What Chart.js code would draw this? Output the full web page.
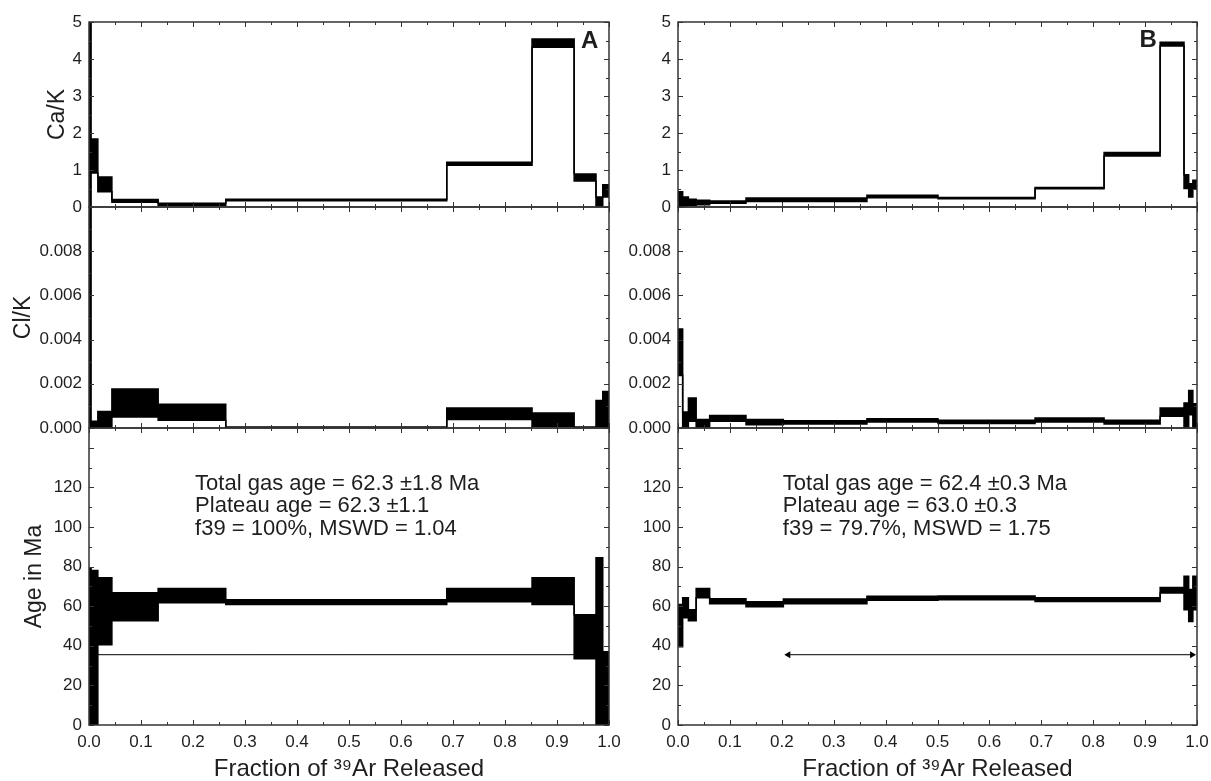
<!DOCTYPE html>
<html><head><meta charset="utf-8">
<script src="https://cdn.jsdelivr.net/npm/chart.js@4.4.1/dist/chart.umd.min.js"></script>
<style>
html,body{margin:0;padding:0;background:#fff;width:1211px;height:781px;overflow:hidden;}
canvas{position:absolute;}
</style></head><body>
<canvas id="aCa" width="624" height="220" style="left:0;top:0"></canvas>
<canvas id="aCl" width="624" height="246" style="left:0;top:195px"></canvas>
<canvas id="aAge" width="624" height="366" style="left:0;top:415px"></canvas>
<canvas id="bCa" width="601" height="220" style="left:610px;top:0"></canvas>
<canvas id="bCl" width="601" height="246" style="left:610px;top:195px"></canvas>
<canvas id="bAge" width="601" height="366" style="left:610px;top:415px"></canvas>
<script>
// ---------- data: panel A ----------
const stepsA   = [0, 0.004, 0.017, 0.044, 0.133, 0.263, 0.688, 0.852, 0.933, 0.975, 0.988, 1.0];
const caKLowA  = [0, 0.92, 0.41, 0.13, 0.05, 0.17, 1.13, 4.32, 0.70, 0.03, 0.27];
const caKHighA = [5.3, 1.84, 0.81, 0.20, 0.10, 0.21, 1.21, 4.54, 0.89, 0.27, 0.60];
const clKLowA  = [0, 0, 0, 0.0005, 0.00035, 0, 0.00038, 0.00008, 0, 0, 0];
const clKHighA = [0.0105, 0.0003, 0.00075, 0.00176, 0.00108, 0.00004, 0.0009, 0.00068, 0.00004, 0.00125, 0.00165];
const ageLowA  = [0, 0, 40.5, 52.7, 61.8, 60.8, 62.3, 60.8, 33.4, 0, 0];
const ageHighA = [79, 78, 74.4, 66.8, 68.9, 63.3, 68.9, 74.4, 55.7, 84.5, 37];
const plateauA = {from: 0, to: 1.0, age: 35.5};
const notesA   = ['Total gas age = 62.3 \u00b11.8 Ma', 'Plateau age = 62.3 \u00b11.1', 'f39 = 100%, MSWD = 1.04'];

// ---------- data: panel B ----------
const stepsB   = [0, 0.009, 0.020, 0.035, 0.061, 0.131, 0.203, 0.364, 0.501, 0.688, 0.821, 0.929, 0.975, 0.984, 0.992, 1.0];
const caKLowB  = [0.0, 0.03, 0.05, 0.06, 0.10, 0.15, 0.15, 0.25, 0.22, 0.49, 1.38, 4.35, 0.50, 0.27, 0.50];
const caKHighB = [0.41, 0.27, 0.21, 0.18, 0.16, 0.24, 0.24, 0.32, 0.26, 0.53, 1.47, 4.45, 0.87, 0.63, 0.72];
const clKLowB  = [0.00238, 0, 0.0003, 0, 0.0003, 0.00015, 0.00018, 0.00027, 0.0002, 0.00027, 0.00018, 0.00053, 0, 0.0006, 0];
const clKHighB = [0.00448, 0.00072, 0.00136, 0.00038, 0.00056, 0.00038, 0.00033, 0.00042, 0.00035, 0.00045, 0.00035, 0.0009, 0.00113, 0.0017, 0.0011];
const ageLowB  = [39.5, 54.2, 52.7, 64.3, 61.3, 59.7, 61.3, 63.0, 63.2, 62.4, 62.4, 66.7, 58.2, 52.3, 58.2];
const ageHighB = [60.8, 64.3, 58.2, 68.9, 63.8, 62.3, 63.6, 65.0, 65.2, 64.3, 64.3, 69.5, 75.1, 68.4, 75.1];
const plateauB = {from: 0.2125, to: 0.9905, age: 35.5};
const notesB   = ['Total gas age = 62.4 \u00b10.3 Ma', 'Plateau age = 63.0 \u00b10.3', 'f39 = 79.7%, MSWD = 1.75'];

// ---------- axis labels ----------
const fractionTicks = [0, 0.1, 0.2, 0.3, 0.4, 0.5, 0.6, 0.7, 0.8, 0.9, 1.0];
const xTitle = 'Fraction of \u00b3\u2079Ar Released';
const caKTitle = 'Ca/K', clKTitle = 'Cl/K', ageTitle = 'Age in Ma';

const FAM = '"Liberation Sans", Arial, Helvetica, sans-serif';
const INK = '#1e1e1e';

function stepData(steps, vals) {
  const pts = vals.map((v, i) => ({x: steps[i], y: v}));
  pts.push({x: steps[steps.length - 1], y: vals[vals.length - 1]});
  return pts;
}

const frameTicks = {
  id: 'frameTicks',
  afterDatasetsDraw(chart, args, opts) {
    const {ctx, chartArea: a, scales: {x, y}} = chart;
    ctx.save();
    ctx.strokeStyle = '#333';
    ctx.lineWidth = 1;
    ctx.beginPath();
    for (let i = 0; i <= 20; i++) {
      const px = Math.round(x.getPixelForValue(i * 0.05)) + 0.5;
      const len = i % 2 === 0 ? 5 : 3;
      ctx.moveTo(px, a.top); ctx.lineTo(px, a.top + len);
      ctx.moveTo(px, a.bottom); ctx.lineTo(px, a.bottom - len);
    }
    const n = Math.round((y.max - y.min) / opts.minor);
    for (let i = 0; i <= n; i++) {
      const py = Math.round(y.getPixelForValue(y.min + i * opts.minor)) + 0.5;
      const len = i % opts.every === 0 ? 5 : 3;
      ctx.moveTo(a.left, py); ctx.lineTo(a.left + len, py);
      ctx.moveTo(a.right, py); ctx.lineTo(a.right - len, py);
    }
    ctx.stroke();
    ctx.lineWidth = 1.5;
    ctx.strokeRect(a.left, a.top, a.right - a.left, a.bottom - a.top);
    ctx.restore();
  }
};
const notesPlugin = {
  id: 'notes',
  afterDraw(chart, args, opts) {
    const items = opts.items || [];
    const {ctx, scales: {x, y}} = chart;
    ctx.save();
    for (const it of items) {
      ctx.font = it.font;
      ctx.fillStyle = INK;
      ctx.textAlign = it.align || 'left';
      ctx.textBaseline = 'middle';
      ctx.fillText(it.text, x.getPixelForValue(it.x), y.getPixelForValue(it.y));
    }
    ctx.restore();
  }
};
Chart.register(frameTicks, notesPlugin);

function makeChart(id, o) {
  const ds = [
    {data: stepData(o.steps, o.lo), stepped: true, borderColor: '#000', borderWidth: 1.5, pointRadius: 0, fill: false, clip: 0},
    {data: stepData(o.steps, o.hi), stepped: true, borderColor: '#000', borderWidth: 1.5, pointRadius: 0, fill: '-1', backgroundColor: '#000', clip: 0}
  ];
  if (o.plateau) {
    ds.push({
      data: [{x: o.plateau.from, y: o.plateau.age}, {x: o.plateau.to, y: o.plateau.age}],
      borderColor: '#000', borderWidth: 1, fill: false, clip: 0,
      pointRadius: o.arrows ? 4 : 0, pointStyle: 'triangle', pointBackgroundColor: '#000', pointBorderWidth: 0,
      pointRotation: c => c.dataIndex === 0 ? 270 : 90
    });
  }
  return new Chart(document.getElementById(id), {
    type: 'line',
    data: {datasets: ds},
    options: {
      responsive: false, animation: false, events: [],
      layout: {padding: o.padding},
      plugins: {
        legend: {display: false}, tooltip: {enabled: false},
        frameTicks: {minor: o.minor, every: o.every},
        notes: {items: o.notes || []}
      },
      scales: {
        x: {
          type: 'linear', min: 0, max: 1, display: !!o.showX,
          afterFit: s => { s.height = o.showX ? 56 : 0; s.paddingLeft = 0; s.paddingRight = 0; s.paddingTop = 0; s.paddingBottom = 0; },
          grid: {display: false, drawTicks: false}, border: {display: false},
          afterBuildTicks: s => { s.ticks = fractionTicks.map(v => ({value: v})); },
          ticks: {padding: 7, maxRotation: 0, autoSkip: false, color: INK, font: {family: FAM, size: 17},
                  callback: v => v.toFixed(1)},
          title: {display: true, text: xTitle, color: INK, font: {family: FAM, size: 24, lineHeight: 1}, padding: {top: 0, bottom: 0}}
        },
        y: {
          type: 'linear', min: o.min, max: o.max,
          afterFit: s => { s.width = o.axisW; s.paddingLeft = 0; s.paddingRight = 0; s.paddingTop = 0; s.paddingBottom = 0; },
          grid: {display: false, drawTicks: false}, border: {display: false},
          ticks: {stepSize: o.step, padding: 7, autoSkip: false, color: INK, font: {family: FAM, size: 17}, callback: o.fmt},
          title: {display: !!o.title, text: o.title, color: INK, font: {family: FAM, size: 23}, padding: {top: o.titlePad || 0, bottom: 0}}
        }
      }
    }
  });
}

const caFmt = v => (v <= 5.001 ? String(Math.round(v)) : '');
const clFmt = v => (v < 0.0095 ? v.toFixed(3) : '');
const ageFmt = v => (v <= 120.5 && Math.abs(v % 20) < 0.01 ? String(Math.round(v)) : '');
const noteFont = '22px ' + FAM;
const letterFont = 'bold 24px ' + FAM;
const noteRows = [122, 110.7, 99];

function panel(p) {
  makeChart(p.ids[0], {steps: p.steps, lo: p.caLo, hi: p.caHi, min: 0, max: 5, step: 1, minor: 0.5, every: 2,
    fmt: caFmt, axisW: p.axisW, padding: {top: 22, bottom: 13, right: p.padR, left: 0},
    title: p.titles ? caKTitle : '', titlePad: 44,
    notes: [{x: p.letterX, y: p.letterY, text: p.letter, font: letterFont, align: 'center'}]});
  makeChart(p.ids[1], {steps: p.steps, lo: p.clLo, hi: p.clHi, min: 0, max: 0.01, step: 0.002, minor: 0.001, every: 2,
    fmt: clFmt, axisW: p.axisW, padding: {top: 12, bottom: 13, right: p.padR, left: 0},
    title: p.titles ? clKTitle : '', titlePad: 10});
  makeChart(p.ids[2], {steps: p.steps, lo: p.ageLo, hi: p.ageHi, min: 0, max: 150, step: 20, minor: 10, every: 2,
    fmt: ageFmt, axisW: p.axisW, padding: {top: 13, bottom: 0, right: p.padR, left: 0}, showX: true,
    title: p.titles ? ageTitle : '', titlePad: 21, plateau: p.plateau, arrows: p.arrows,
    notes: p.notes.map((t, i) => ({x: p.noteX, y: noteRows[i], text: t, font: noteFont}))});
}

panel({ids: ['aCa', 'aCl', 'aAge'], steps: stepsA, caLo: caKLowA, caHi: caKHighA, clLo: clKLowA, clHi: clKHighA,
  ageLo: ageLowA, ageHi: ageHighA, plateau: plateauA, arrows: false, notes: notesA, noteX: 0.204,
  axisW: 89, padR: 15, titles: true, letter: 'A', letterX: 0.963, letterY: 4.48});
panel({ids: ['bCa', 'bCl', 'bAge'], steps: stepsB, caLo: caKLowB, caHi: caKHighB, clLo: clKLowB, clHi: clKHighB,
  ageLo: ageLowB, ageHi: ageHighB, plateau: plateauB, arrows: true, notes: notesB, noteX: 0.202,
  axisW: 68, padR: 14, titles: false, letter: 'B', letterX: 0.906, letterY: 4.5});
</script>
</body></html>
